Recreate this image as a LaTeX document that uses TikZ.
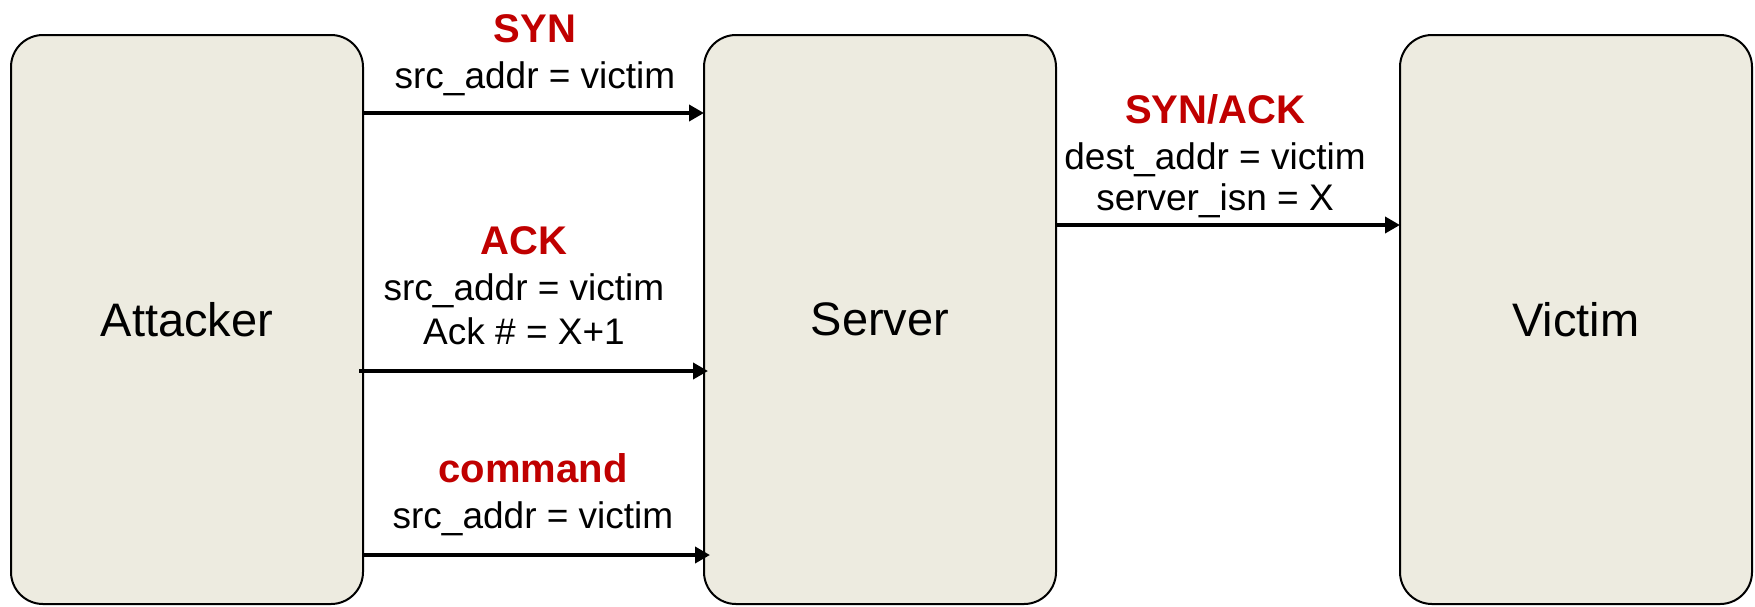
\documentclass[tikz,border=0pt]{standalone}
\usepackage{fontspec}
\setmainfont{Liberation Sans}
\usetikzlibrary{arrows.meta}
\definecolor{boxfill}{HTML}{EDEBE0}
\definecolor{pktred}{HTML}{C00000}
\newcommand{\pkt}[1]{{\fontsize{40}{46}\selectfont\bfseries\color{pktred}#1}}
\tikzset{
  host/.style={draw=black, line width=2pt, fill=boxfill, rounded corners=32pt,
    minimum width=352pt, minimum height=569pt, outer sep=0pt, inner sep=0pt,
    anchor=north west, font=\fontsize{47}{56}\selectfont},
  msg/.style={line width=3.7pt, -{Triangle[length=15pt,width=16pt]}},
  lbl/.style={anchor=base, align=center, inner sep=0pt,
    font=\fontsize{37}{46}\selectfont}
}
\begin{document}
\begin{tikzpicture}[x=1pt,y=-1pt]
\useasboundingbox (0,0) rectangle (1755,606);

% the three hosts
\node[host] (att) at (11,35)   {Attacker};
\node[host] (srv) at (704,35)  {Server};
\node[host] (vic) at (1400,35) {Victim};

% heights of the four messages
\coordinate (ySyn)    at (0,113);
\coordinate (yAck)    at (0,371);
\coordinate (yCmd)    at (0,555);
\coordinate (ySynAck) at (0,225);

% messages
\draw[msg] (att.east |- ySyn) -- (srv.west |- ySyn);
\draw[msg] ([xshift=-4pt]att.east |- yAck) -- ([xshift=4pt]srv.west |- yAck);
\draw[msg] (att.east |- yCmd) -- ([xshift=6pt]srv.west |- yCmd);
\draw[msg] (srv.east |- ySynAck) -- (vic.west |- ySynAck);

% message labels (placed by the baseline of their last line)
\node[lbl] (lSyn) at (535,88.3) {\pkt{SYN}\\src\_addr = victim};
\node[lbl] (lAck) at (524,344.3) {\pkt{ACK}\\src\_addr = victim\\[-2pt]Ack \# = X+1};
\node[lbl] (lCmd) at (533,528.3) {\pkt{command}\\src\_addr = victim};
\node[lbl] (lSynAck) at (1215,210) {\pkt{SYN/ACK}\\dest\_addr = victim\\[-5pt]server\_isn = X};
\end{tikzpicture}
\end{document}
